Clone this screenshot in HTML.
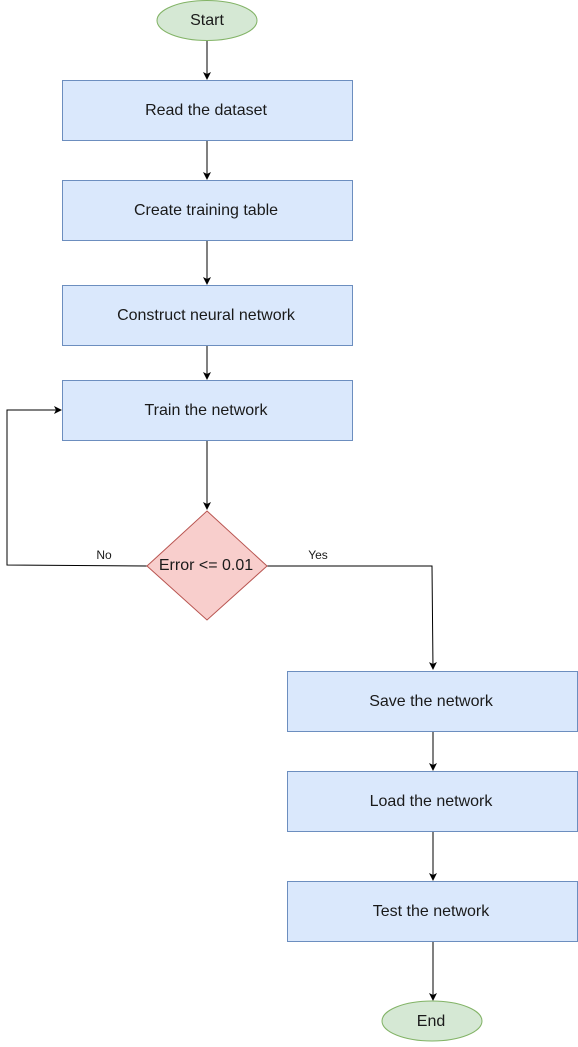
<!DOCTYPE html>
<html><head><style>body{margin:0;background:#fff}</style></head><body>
<svg width="578" height="1042" xmlns="http://www.w3.org/2000/svg" font-family="Liberation Sans, sans-serif">
<defs><marker id="a" markerWidth="8" markerHeight="8" refX="7" refY="4" orient="auto" markerUnits="userSpaceOnUse"><path d="M0,0 L8,4 L0,8 L2,4 Z" fill="#000"/></marker></defs>
<g stroke="#000" stroke-width="1" fill="none" marker-end="url(#a)">
<line x1="207" y1="40" x2="207" y2="79"/>
<line x1="207" y1="140" x2="207" y2="179"/>
<line x1="207" y1="240" x2="207" y2="284"/>
<line x1="207" y1="345" x2="207" y2="379"/>
<line x1="207" y1="440" x2="207" y2="509"/>
<polyline points="147,566 7,565 7,410 61,410"/>
<polyline points="267,566 432,566 433,669"/>
<line x1="433" y1="731" x2="433" y2="770"/>
<line x1="433" y1="831" x2="433" y2="880"/>
<line x1="433" y1="941" x2="433" y2="1000"/>
</g>
<g fill="#dae8fc" stroke="#6c8ebf">
<rect x="62.5" y="80.5" width="290" height="60"/>
<rect x="62.5" y="180.5" width="290" height="60"/>
<rect x="62.5" y="285.5" width="290" height="60"/>
<rect x="62.5" y="380.5" width="290" height="60"/>
<rect x="287.5" y="671.5" width="290" height="60"/>
<rect x="287.5" y="771.5" width="290" height="60"/>
<rect x="287.5" y="881.5" width="290" height="60"/>
</g>
<g fill="#d5e8d4" stroke="#82b366">
<ellipse cx="207" cy="20.5" rx="50" ry="20"/>
<ellipse cx="432" cy="1021" rx="50" ry="20"/>
</g>
<polygon points="207,511 267,566 207,620 147,566" fill="#f8cecc" stroke="#b85450"/>
<g font-size="16" fill="#1a1a1a" text-anchor="middle">
<text x="207" y="25">Start</text>
<text x="206" y="115">Read the dataset</text>
<text x="206" y="215">Create training table</text>
<text x="206" y="320">Construct neural network</text>
<text x="206" y="415">Train the network</text>
<text x="206" y="570">Error &lt;= 0.01</text>
<text x="431" y="706">Save the network</text>
<text x="431" y="806">Load the network</text>
<text x="431" y="916">Test the network</text>
<text x="431" y="1026">End</text>
</g>
<g font-size="12" fill="#1a1a1a" text-anchor="middle">
<text x="104" y="559">No</text>
<text x="318" y="559">Yes</text>
</g>
</svg>
</body></html>
